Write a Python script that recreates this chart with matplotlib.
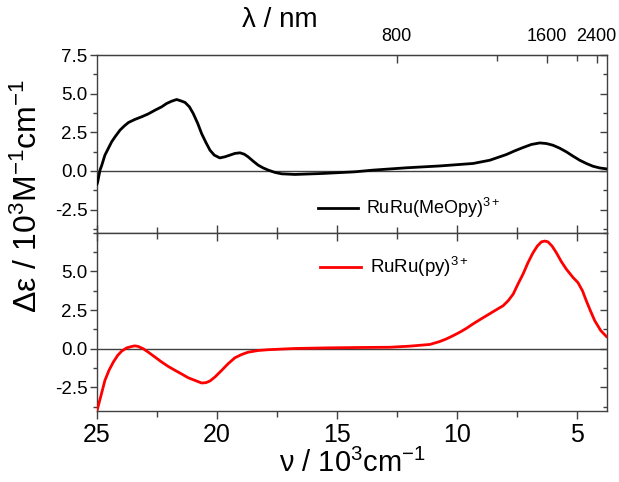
import numpy as np
import matplotlib
matplotlib.use("Agg")
import matplotlib.pyplot as plt
from matplotlib.ticker import MultipleLocator, FixedLocator, NullFormatter
import matplotlib.lines as mlines

plt.rcParams['font.family'] = ['Liberation Sans', 'DejaVu Sans']
plt.rcParams['mathtext.fontset'] = 'custom'
plt.rcParams['mathtext.rm'] = 'Liberation Sans'
plt.rcParams['mathtext.it'] = 'Liberation Sans:italic'
plt.rcParams['mathtext.bf'] = 'Liberation Sans:bold'
plt.rcParams['axes.unicode_minus'] = False

# ---- data (wavenumber in 10^3 cm^-1, delta-epsilon in 10^3 M^-1 cm^-1) ----
nu_meopy = [25.0, 24.97, 24.875, 24.80, 24.67, 24.53, 24.39, 24.25, 24.04, 23.86,
            23.69, 23.42, 23.14, 22.86, 22.58, 22.30, 22.10, 21.89, 21.68, 21.50,
            21.33, 21.15, 20.99, 20.80, 20.64, 20.46, 20.29, 20.11, 19.88, 19.67,
            19.46, 19.25, 19.04, 18.86, 18.70, 18.49, 18.28, 18.07, 17.86, 17.58,
            17.30, 16.75, 15.64, 14.875, 14.25, 13.49, 12.10, 10.71, 9.32, 8.625,
            7.93, 7.58, 7.24, 6.89, 6.54, 6.26, 5.99, 5.71, 5.43, 5.15,
            4.875, 4.60, 4.32, 4.04, 3.76]
de_meopy = [-0.85, -0.71, 0.05, 0.37, 1.02, 1.45, 1.88, 2.20, 2.64, 2.91,
            3.13, 3.33, 3.50, 3.69, 3.93, 4.15, 4.36, 4.51, 4.62, 4.53,
            4.43, 4.15, 3.72, 3.07, 2.42, 1.84, 1.34, 1.02, 0.84, 0.91,
            1.02, 1.13, 1.17, 1.08, 0.91, 0.63, 0.37, 0.19, 0.05, -0.10,
            -0.19, -0.23, -0.17, -0.11, -0.06, 0.05, 0.20, 0.32, 0.48, 0.69,
            1.06, 1.30, 1.51, 1.71, 1.81, 1.77, 1.66, 1.47, 1.23, 0.95,
            0.69, 0.48, 0.30, 0.19, 0.13]

nu_py = [25.0, 24.83, 24.67, 24.50, 24.32, 24.14, 23.97, 23.76, 23.55, 23.42,
         23.28, 23.07, 22.86, 22.58, 22.30, 22.03, 21.75, 21.47, 21.20, 20.92,
         20.64, 20.46, 20.29, 20.08, 19.80, 19.53, 19.25, 18.97, 18.70, 18.28,
         17.86, 16.75, 15.36, 14.25, 12.79, 11.96, 11.125, 10.71, 10.43, 10.15,
         9.875, 9.60, 9.32, 9.04, 8.76, 8.42, 8.07, 7.86, 7.65, 7.45,
         7.24, 7.03, 6.82, 6.64, 6.47, 6.33, 6.20, 6.03, 5.85, 5.64,
         5.43, 5.15, 4.95, 4.76, 4.60, 4.43, 4.25, 4.00, 3.76]
de_py = [-4.0, -3.0, -2.04, -1.39, -0.86, -0.43, -0.15, 0.06, 0.15, 0.19,
         0.15, 0.0, -0.22, -0.54, -0.86, -1.14, -1.39, -1.63, -1.87, -2.04,
         -2.21, -2.19, -2.08, -1.82, -1.39, -0.96, -0.58, -0.37, -0.22, -0.11,
         -0.06, 0.02, 0.06, 0.08, 0.10, 0.17, 0.28, 0.47, 0.64, 0.85,
         1.07, 1.32, 1.61, 1.88, 2.14, 2.46, 2.78, 3.10, 3.53, 4.18,
         4.82, 5.57, 6.21, 6.64, 6.91, 6.96, 6.91, 6.64, 6.21, 5.63,
         5.14, 4.60, 4.28, 3.75, 3.10, 2.46, 1.82, 1.18, 0.79]

label_meopy = 'RuRu(MeOpy)$^{3+}$'
label_py = 'RuRu(py)$^{3+}$'

nu_ticks = [25, 20, 15, 10, 5]
lam_major = [800, 1600, 2400]
lam_minor = [1200, 2000]

spine_c = '#404040'

fig = plt.figure(figsize=(6.19, 4.82), dpi=100)
L, R = 97/619, 606.7/619
top_t, mid, bot = 1-55/482, 1-232.7/482, 1-410.7/482
ax1 = fig.add_axes([L, mid, R-L, top_t-mid])
ax2 = fig.add_axes([L, bot, R-L, mid-bot], sharex=ax1)

ax1.plot(nu_meopy, de_meopy, color='black', lw=2.0, label=label_meopy, zorder=3)
ax2.plot(nu_py, de_py, color='#ff0000', lw=2.0, label=label_py, zorder=3)

ax1.set_yticks([-2.5, 0.0, 2.5, 5.0, 7.5])
ax2.set_yticks([-2.5, 0.0, 2.5, 5.0])

for ax in (ax1, ax2):
    ax.set_xlim(25, 3.75)
    ax.set_ylim(-4.0, 7.5)
    ax.axhline(0, color=spine_c, lw=1.0, zorder=1)
    for s in ax.spines.values():
        s.set_color(spine_c)
        s.set_linewidth(1.0)
    ax.yaxis.set_minor_locator(MultipleLocator(1.25))
    ax.xaxis.set_major_locator(FixedLocator(nu_ticks))
    ax.xaxis.set_minor_locator(MultipleLocator(2.5))
    ax.tick_params(axis='y', which='both', left=True, right=True, labelsize=13.5,
                   color=spine_c, pad=2, direction='out')
    ax.tick_params(axis='y', which='major', length=5, width=1.0)
    ax.tick_params(axis='y', which='minor', length=3, width=1.0)
    for t in ax.yaxis.get_major_ticks() + ax.yaxis.get_minor_ticks():
        t.tick2line.set_marker(mlines.TICKLEFT)

# x ticks
ax1.tick_params(axis='x', which='both', bottom=True, top=False, direction='in',
                labelbottom=False, color=spine_c, width=1.0)
ax1.tick_params(axis='x', which='major', length=6)
ax1.tick_params(axis='x', which='minor', length=4)
ax2.tick_params(axis='x', which='both', bottom=True, top=True, direction='out',
                labelbottom=True, labelsize=18, color=spine_c, width=1.0, pad=3)
ax2.tick_params(axis='x', which='major', length=6)
ax2.tick_params(axis='x', which='minor', length=4)
for t in ax2.xaxis.get_major_ticks() + ax2.xaxis.get_minor_ticks():
    t.tick2line.set_marker(mlines.TICKDOWN)

# top wavelength axis
def nu2lam(x):
    x = np.asarray(x, dtype=float)
    with np.errstate(divide='ignore'):
        return 1e4 / x
sec = ax1.secondary_xaxis('top', functions=(nu2lam, nu2lam))
sec.set_xticks(lam_major)
sec.set_xticklabels([str(v) for v in lam_major])
sec.xaxis.set_minor_locator(FixedLocator(lam_minor))
sec.xaxis.set_minor_formatter(NullFormatter())
sec.tick_params(axis='x', which='both', direction='in', color=spine_c,
                labelsize=13, pad=7)
sec.tick_params(axis='x', which='major', length=6, width=1.0)
sec.tick_params(axis='x', which='minor', length=4, width=1.0)
sec.spines['top'].set_color(spine_c)

# legends
ax1.legend(loc='center left', bbox_to_anchor=(0.434, 0.139), frameon=False,
           fontsize=13, handlelength=2.2, handletextpad=0.45,
           borderpad=0, borderaxespad=0)
ax2.legend(loc='center left', bbox_to_anchor=(0.4375, 0.807), frameon=False,
           fontsize=13.5, handlelength=2.2, handletextpad=0.45,
           borderpad=0, borderaxespad=0)

# axis titles
fig.text(28/619, 1-196/482, 'Δε / 10$^3$M$^{-1}$cm$^{-1}$', rotation=90,
         ha='center', va='center', fontsize=23)
fig.text(352/619, 1-463/482, 'ν / 10$^3$cm$^{-1}$', ha='center', va='center',
         fontsize=21)
fig.text(280/619, 1-20/482, 'λ / nm', ha='center', va='center', fontsize=20)

fig.savefig('out.png', dpi=100)
